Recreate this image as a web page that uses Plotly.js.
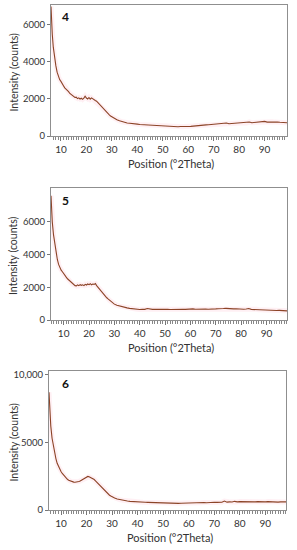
<!DOCTYPE html>
<html>
<head>
<meta charset="utf-8">
<script src="https://cdn.plot.ly/plotly-3.0.1.min.js"></script>
<style>html,body{margin:0;padding:0;background:#fff;}#chart{width:297px;height:550px;}</style>
</head>
<body>
<div id="chart"></div>
<script>
var panelLabels = ["4", "5", "6"];
var xTitle = "Position (°2Theta)";
var yTitle = "Intensity (counts)";
var xTickVals = [10, 20, 30, 40, 50, 60, 70, 80, 90];

var angle4 = [6.1,6.3,6.6,7,7.5,8,8.5,9,9.5,10,10.5,11,11.5,12,12.5,13,13.5,14,14.5,15,15.5,16,16.5,17,17.5,18,18.5,19,19.5,20,20.5,21,21.5,22,22.5,23,23.5,24,24.5,25,25.5,26,26.5,27,27.5,28,28.5,29,29.5,30,31,32,33,34,35,36,37,38,39,40,41,42,43,44,45,46,47,48,49,50,51,52,53,54,55,56,57,58,59,60,61,62,63,64,65,66,67,68,69,70,71,72,73,74,75,76,77,78,79,80,81,82,83,84,85,86,87,88,89,90,91,92,93,94,95,96,97,98,98.8];
var counts4 = [7000,6200,5500,4800,4200,3800,3450,3200,3050,2950,2800,2720,2600,2550,2450,2400,2300,2250,2200,2120,2080,2100,2020,2060,2000,2040,1980,2050,2150,2050,2000,2080,1990,2060,2000,1980,1920,1880,1800,1720,1650,1560,1480,1400,1330,1260,1200,1140,1080,1030,940,880,820,770,740,700,690,660,640,640,620,610,600,590,580,570,560,550,540,530,510,520,500,490,510,500,510,500,520,510,520,540,560,570,580,590,600,610,620,620,630,640,650,660,700,660,670,690,680,700,700,720,710,760,720,730,740,730,750,790,750,760,770,750,760,740,730,720,720];

var angle5 = [5,5.2,5.5,6,6.5,7,7.5,8,8.5,9,9.5,10,10.5,11,11.5,12,12.5,13,13.5,14,14.5,15,15.5,16,16.5,17,17.5,18,18.5,19,19.5,20,20.5,21,21.5,22,22.5,23,23.5,24,24.5,25,25.5,26,26.5,27,27.5,28,28.5,29,29.5,30,31,32,33,34,35,36,37,38,39,40,41,42,43,44,45,46,47,48,49,50,51,52,53,54,55,56,57,58,59,60,61,62,63,64,65,66,67,68,69,70,71,72,73,74,75,76,77,78,79,80,81,82,83,84,85,86,87,88,89,90,91,92,93,94,95,96,97,98.1];
var counts5 = [7600,6800,6000,5200,4600,4100,3700,3400,3200,3050,2950,2820,2700,2620,2520,2450,2350,2280,2200,2150,2100,2080,2150,2100,2160,2120,2150,2100,2180,2140,2200,2160,2220,2150,2200,2180,2230,2100,2000,1900,1800,1700,1600,1520,1440,1360,1290,1220,1150,1080,1020,970,900,850,810,780,740,710,690,660,650,640,660,650,700,660,650,650,660,640,660,650,660,640,650,660,650,670,660,650,670,660,680,660,670,660,680,670,660,680,670,680,690,680,700,710,690,700,680,690,670,680,660,670,700,650,640,650,630,620,610,600,610,590,600,580,590,570,580,560];

var angle6 = [5.3,5.5,5.8,6,6.5,7,7.5,8,8.5,9,9.5,10,10.5,11,11.5,12,12.5,13,13.5,14,14.5,15,15.5,16,16.5,17,17.5,18,18.5,19,19.5,20,20.5,21,21.5,22,22.5,23,23.5,24,24.5,25,25.5,26,26.5,27,27.5,28,28.5,29,29.5,30,31,32,33,34,35,36,37,38,39,40,41,42,43,44,45,46,47,48,49,50,51,52,53,54,55,56,57,58,59,60,61,62,63,64,65,66,67,68,69,70,71,72,73,74,75,76,77,78,79,80,81,82,83,84,85,86,87,88,89,90,91,92,93,94,95,96,97,98.1];
var counts6 = [8700,7600,6800,6200,5300,4700,4200,3800,3450,3200,3000,2850,2700,2580,2450,2350,2270,2200,2150,2100,2080,2060,2050,2060,2080,2100,2150,2200,2250,2300,2350,2420,2480,2450,2400,2380,2320,2250,2150,2050,1950,1850,1730,1620,1520,1420,1330,1240,1160,1090,1030,970,880,810,760,720,690,660,640,620,610,600,590,580,570,560,550,540,540,530,520,510,510,500,500,490,500,490,500,510,500,520,510,530,520,540,530,550,540,560,550,570,560,580,570,660,580,600,590,640,600,620,610,640,620,600,610,600,620,600,610,600,620,600,590,600,580,600,590,600];

var yTickVals4 = [0, 2000, 4000, 6000];
var yTickText4 = ["0", "2000", "4000", "6000"];
var yTickVals5 = [0, 2000, 4000, 6000];
var yTickText5 = ["0", "2000", "4000", "6000"];
var yTickVals6 = [0, 5000, 10000];
var yTickText6 = ["0", "5000", "10,000"];

var lineColor = "#8c4427";
var haloColor = "rgba(255,185,205,0.22)";
var FONT = "Lato, 'Open Sans', sans-serif";

var H = 550, W = 297;
var panels = [
  {x: angle4, y: counts4, xr: [6.1, 98.8], yr: [0, 7080], tv: yTickVals4, tt: yTickText4, top: 5, bot: 136, l: 51, r: 287},
  {x: angle5, y: counts5, xr: [5.0, 98.1], yr: [0, 8070], tv: yTickVals5, tt: yTickText5, top: 188, bot: 320, l: 51, r: 287},
  {x: angle6, y: counts6, xr: [5.3, 98.1], yr: [0, 10270], tv: yTickVals6, tt: yTickText6, top: 371, bot: 510, l: 49, r: 286}
];

var data = [];
var layout = {
  width: W, height: H,
  margin: {l: 0, r: 0, t: 0, b: 0},
  paper_bgcolor: "#fff", plot_bgcolor: "#fff",
  showlegend: false,
  font: {family: FONT, size: 10, color: "#333"},
  annotations: []
};

panels.forEach(function(p, i) {
  var n = i + 1;
  var xa = "x" + (n === 1 ? "" : n), ya = "y" + (n === 1 ? "" : n);
  data.push({x: p.x, y: p.y, xaxis: xa, yaxis: ya, type: "scatter", mode: "lines",
    line: {color: haloColor, width: 5}, hoverinfo: "skip"});
  data.push({x: p.x, y: p.y, xaxis: xa, yaxis: ya, type: "scatter", mode: "lines",
    line: {color: lineColor, width: 1.1}});
  var xk = "xaxis" + (n === 1 ? "" : n), yk = "yaxis" + (n === 1 ? "" : n);
  layout[xk] = {
    domain: [p.l / W, p.r / W], anchor: ya, range: p.xr,
    showgrid: false, zeroline: false, showline: true, mirror: true, linecolor: "#8f8f8f", linewidth: 1,
    ticks: "outside", ticklen: 4, tickcolor: "#777", tickvals: xTickVals,
    minor: {dtick: 1, ticks: "outside", ticklen: 2.5, tickcolor: "#888", showgrid: false},
    tickfont: {family: FONT, size: 10, color: "#333"}
  };
  layout[yk] = {
    domain: [1 - p.bot / H, 1 - p.top / H], anchor: xa, range: p.yr,
    showgrid: false, zeroline: false, showline: true, mirror: true, linecolor: "#8f8f8f", linewidth: 1,
    ticks: "outside", ticklen: 3, tickcolor: "#777", tickvals: p.tv, ticktext: p.tt,
    tickfont: {family: FONT, size: 9.5, color: "#333"}
  };
  layout.annotations.push({
    xref: "paper", yref: "paper", x: ((p.l + p.r) / 2 + 2) / W, y: 1 - (p.bot + 27) / H,
    text: xTitle, showarrow: false, xanchor: "center", yanchor: "middle",
    font: {family: FONT, size: 11, color: "#333"}
  });
  layout.annotations.push({
    xref: "paper", yref: "paper", x: 13 / W, y: 1 - ((p.top + p.bot) / 2 + 2) / H,
    text: yTitle, showarrow: false, textangle: -90, xanchor: "center", yanchor: "middle",
    font: {family: FONT, size: 10.5, color: "#333"}
  });
  layout.annotations.push({
    xref: "paper", yref: "paper", x: 65 / W, y: 1 - (p.top + 12) / H,
    text: "<b>" + panelLabels[i] + "</b>", showarrow: false, xanchor: "center", yanchor: "middle",
    font: {family: FONT, size: 12, color: "#111"}
  });
});

Plotly.newPlot("chart", data, layout, {staticPlot: true, displayModeBar: false});
</script>
</body>
</html>
